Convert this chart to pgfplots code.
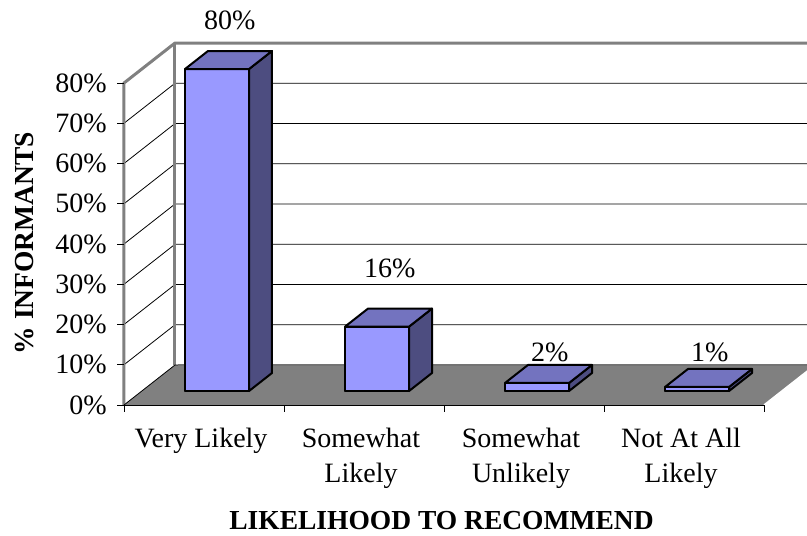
\documentclass[border=0pt]{standalone}
\usepackage{fontspec}
\setmainfont{Liberation Serif}
\usepackage{pgfplots}
\usepackage{pgfplotstable}
\pgfplotsset{compat=1.18}
\usetikzlibrary{calc}

\definecolor{barfront}{RGB}{153,153,255}
\definecolor{bartop}{RGB}{115,115,191}
\definecolor{barside}{RGB}{77,77,128}
\definecolor{floorgray}{RGB}{128,128,128}

% value = share of informants, labelz = height of the value label
\pgfplotstableread{
idx value labelz
0 80 89.7
1 16 28.1
2 2 7.2
3 1 7.2
}\likelihood

\begin{document}
\begin{tikzpicture}[font=\fontsize{28}{35}\selectfont]
\begin{axis}[
  x={(160pt,0pt)}, y={(51pt,40pt)}, z={(0pt,4.025pt)},
  xmin=0, xmax=4, ymin=0, ymax=1, zmin=0, zmax=80,
  hide axis, clip=false,
  /pgf/number format/assume math mode=true,
  barstyle/.style={draw=black, line width=2pt, line join=round, line cap=round, mark=none},
]
\coordinate (O) at (axis cs:0,0,0);
% floor
\fill[floorgray] (axis cs:0,0,0) -- (axis cs:4,0,0) -- (axis cs:4,1,0) -- (axis cs:0,1,0) -- cycle;
\draw[white, line width=1.5pt] (axis cs:4,0,0) -- (axis cs:4,1,0);
% grid on the walls
\pgfplotsinvokeforeach{10,20,...,70}{
  \draw[black, line width=0.8pt] (axis cs:0,0,#1) -- (axis cs:0,1,#1) -- (axis cs:4,1,#1);
}
% wall borders
\draw[floorgray!60, line width=2.5pt] (axis cs:0.02,1,0) -- (axis cs:4,1,0);
\draw[floorgray, line width=3pt, line join=round] (axis cs:0,0,0) -- (axis cs:0,0,80) -- (axis cs:0,1,80) -- (axis cs:4,1,80);
\draw[floorgray, line width=3pt] (axis cs:0,1,0) -- (axis cs:0,1,80);
\draw[black, line width=0.8pt] (axis cs:0,0,0) -- (axis cs:0,1,0) -- (axis cs:4,1,0);

% bars
\pgfplotsforeachungrouped \i in {0,1,2,3}{%
  \pgfplotstablegetelem{\i}{value}\of\likelihood
  \let\v\pgfplotsretval
  \pgfmathsetmacro\xa{\i+0.27}%
  \pgfmathsetmacro\xb{\i+0.67}%
  \edef\barcmd{%
    \noexpand\addplot3[barstyle, fill=barfront] coordinates {(\xa,0.35,0) (\xb,0.35,0) (\xb,0.35,\v) (\xa,0.35,\v) (\xa,0.35,0)};
    \noexpand\addplot3[barstyle, fill=barside] coordinates {(\xb,0.35,0) (\xb,0.8,0) (\xb,0.8,\v) (\xb,0.35,\v) (\xb,0.35,0)};
    \noexpand\addplot3[barstyle, fill=bartop] coordinates {(\xa,0.35,\v) (\xb,0.35,\v) (\xb,0.8,\v) (\xa,0.8,\v) (\xa,0.35,\v)};
  }%
  \barcmd
}

% value labels
\addplot3[draw=none, mark=none, point meta=\thisrow{value},
  nodes near coords={\pgfmathprintnumber{\pgfplotspointmeta}\%},
  every node near coord/.append style={anchor=center, inner sep=0pt}]
  table[x expr=\thisrow{idx}+0.47, y expr=0.6, z=labelz]{\likelihood};

% value axis
\pgfplotsinvokeforeach{0,10,...,80}{
  \draw[black, line width=0.8pt] (axis cs:0,0,#1) -- ++(-7pt,0pt);
  \node[anchor=east, inner sep=0pt, xshift=-17pt] at (axis cs:0,0,#1) {#1\%};
}
% category axis
\draw[black, line width=0.8pt] (axis cs:0,0,0) -- (axis cs:4,0,0);
\pgfplotsinvokeforeach{0,1,2,3,4}{
  \draw[black, line width=0.8pt] (axis cs:#1,0,0) -- ++(0pt,-7pt);
}
\node[anchor=north, align=center, inner sep=0pt, yshift=-23pt, xshift=-3pt] at (axis cs:0.5,0,0) {Very Likely};
\node[anchor=north, align=center, inner sep=0pt, yshift=-23pt, xshift=-3pt] at (axis cs:1.5,0,0) {Somewhat\\Likely};
\node[anchor=north, align=center, inner sep=0pt, yshift=-23pt, xshift=-3pt] at (axis cs:2.5,0,0) {Somewhat\\Unlikely};
\node[anchor=north, align=center, inner sep=0pt, yshift=-23pt, xshift=-3pt] at (axis cs:3.5,0,0) {Not At All\\Likely};

\node[font=\fontsize{27.5}{35}\selectfont\bfseries, anchor=base, inner sep=0pt, yshift=-124pt, xshift=-2.5pt] at (axis cs:2,0,0) {LIKELIHOOD TO RECOMMEND};
\node[font=\fontsize{27.5}{35}\selectfont\bfseries, rotate=90, anchor=center, inner sep=0pt] at ($(axis cs:0,0,40.25)+(-99pt,0pt)$) {\% INFORMANTS};
\end{axis}
\pgfresetboundingbox
\path[use as bounding box] ($(O)+(-124pt,-131pt)$) rectangle ($(O)+(683pt,405pt)$);
\end{tikzpicture}
\end{document}
